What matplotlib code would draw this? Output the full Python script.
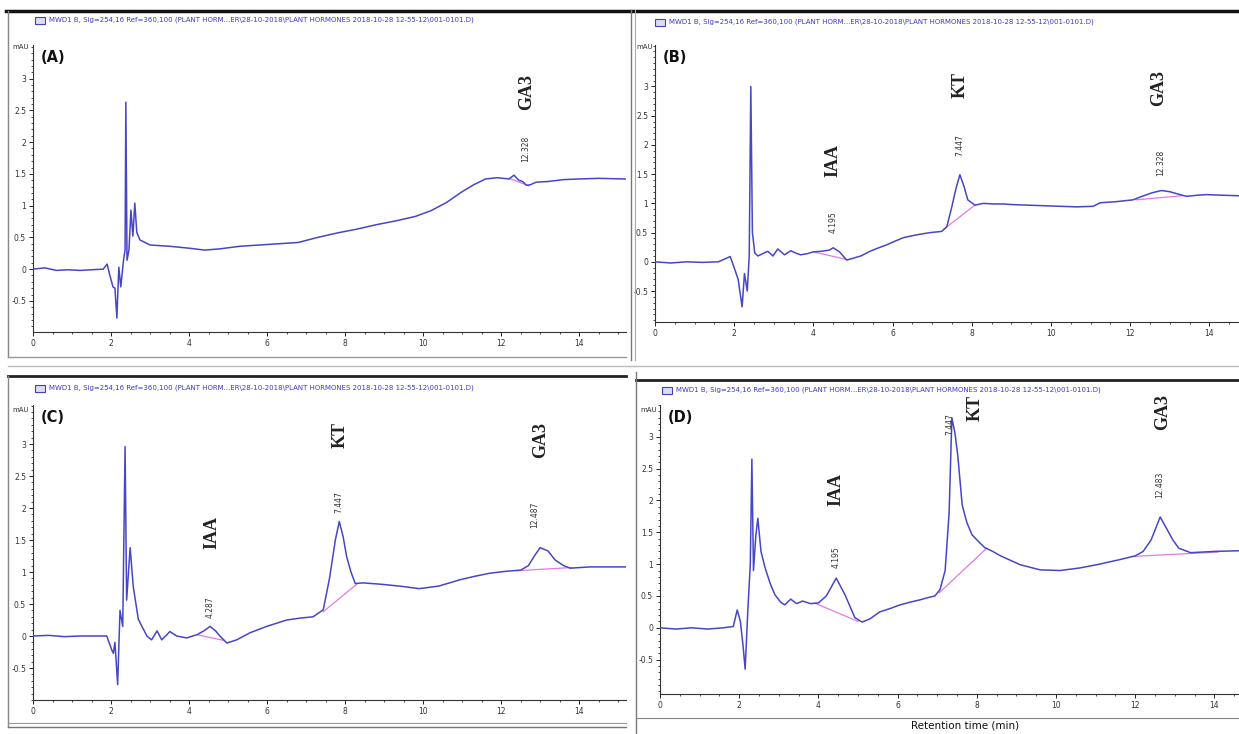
import matplotlib
matplotlib.use("Agg")
import matplotlib.pyplot as plt
from matplotlib.lines import Line2D
from matplotlib.patches import Rectangle
from matplotlib.ticker import MultipleLocator, FixedLocator

# ---- chromatogram traces (time in min, signal in mAU) ----
a_time = [0.0, 0.3, 0.6, 0.9, 1.2, 1.5, 1.8, 1.9, 1.97, 2.05, 2.1, 2.15, 2.2, 2.25, 2.32,
          2.36, 2.38, 2.41, 2.46, 2.51, 2.56, 2.61, 2.66, 2.74, 3.0, 3.5, 4.0, 4.4, 4.8,
          5.3, 5.8, 6.3, 6.8, 7.3, 7.8, 8.3, 8.8, 9.3, 9.8, 10.2, 10.6, 11.0, 11.3, 11.6,
          11.9, 12.2, 12.33, 12.45, 12.55, 12.65, 12.75, 12.9, 13.2, 13.6, 14.0, 14.5, 15.2]
a_mau = [0.0, 0.02, -0.02, -0.01, -0.02, -0.01, 0.0, 0.08, -0.1, -0.28, -0.3, -0.77, 0.03,
         -0.28, 0.14, 0.3, 2.63, 0.14, 0.3, 0.93, 0.52, 1.04, 0.58, 0.46, 0.38, 0.36, 0.33,
         0.3, 0.32, 0.36, 0.38, 0.4, 0.42, 0.5, 0.57, 0.63, 0.7, 0.76, 0.83, 0.92, 1.05,
         1.22, 1.33, 1.42, 1.44, 1.42, 1.48, 1.4, 1.38, 1.32, 1.33, 1.37, 1.38, 1.41, 1.42,
         1.43, 1.42]

b_time = [0.0, 0.4, 0.8, 1.2, 1.6, 1.9, 2.02, 2.1, 2.2, 2.26, 2.33, 2.38, 2.42, 2.46, 2.52,
          2.6, 2.72, 2.85, 2.98, 3.1, 3.27, 3.43, 3.55, 3.68, 3.85, 4.0, 4.2, 4.4, 4.5, 4.66,
          4.84, 5.0, 5.2, 5.43, 5.65, 5.85, 6.05, 6.26, 6.45, 6.68, 6.95, 7.24, 7.37, 7.5,
          7.6, 7.7, 7.8, 7.9, 8.08, 8.29, 8.55, 8.8, 9.0, 9.39, 9.8, 10.23, 10.65, 11.07,
          11.24, 11.66, 12.07, 12.3, 12.55, 12.79, 13.0, 13.26, 13.43, 13.7, 13.93, 14.3, 14.75]
b_mau = [0.0, -0.02, 0.0, -0.01, 0.0, 0.09, -0.14, -0.3, -0.77, -0.2, -0.5, 0.1, 3.0, 0.5,
         0.15, 0.1, 0.14, 0.18, 0.1, 0.22, 0.12, 0.19, 0.15, 0.12, 0.14, 0.17, 0.18, 0.2,
         0.24, 0.17, 0.03, 0.06, 0.1, 0.18, 0.24, 0.29, 0.35, 0.41, 0.44, 0.47, 0.5, 0.52,
         0.6, 0.95, 1.25, 1.49, 1.3, 1.06, 0.97, 1.0, 0.99, 0.99, 0.98, 0.97, 0.96, 0.95,
         0.94, 0.95, 1.01, 1.03, 1.06, 1.12, 1.18, 1.22, 1.2, 1.15, 1.12, 1.14, 1.15, 1.14, 1.13]

c_time = [0.0, 0.4, 0.8, 1.2, 1.6, 1.89, 2.02, 2.06, 2.1, 2.17, 2.23, 2.3, 2.36, 2.4, 2.49,
          2.57, 2.7, 2.92, 3.04, 3.18, 3.3, 3.51, 3.68, 3.94, 4.2, 4.38, 4.54, 4.68, 4.79,
          4.97, 5.22, 5.56, 5.99, 6.5, 6.85, 7.18, 7.44, 7.6, 7.75, 7.85, 7.95, 8.04, 8.15,
          8.26, 8.46, 8.9, 9.4, 9.9, 10.4, 10.95, 11.3, 11.7, 12.1, 12.5, 12.7, 12.85, 13.0,
          13.2, 13.38, 13.6, 13.77, 14.28, 14.8, 15.2]
c_mau = [0.0, 0.01, -0.01, 0.0, 0.0, 0.0, -0.22, -0.27, -0.1, -0.76, 0.4, 0.15, 2.96, 0.56,
         1.38, 0.77, 0.26, 0.0, -0.06, 0.08, -0.06, 0.07, 0.0, -0.03, 0.02, 0.08, 0.15, 0.08,
         0.0, -0.11, -0.06, 0.05, 0.15, 0.25, 0.28, 0.3, 0.41, 0.9, 1.5, 1.79, 1.55, 1.24,
         1.0, 0.82, 0.83, 0.81, 0.78, 0.74, 0.78, 0.88, 0.93, 0.98, 1.01, 1.03, 1.1, 1.25,
         1.38, 1.33, 1.19, 1.1, 1.06, 1.08, 1.08, 1.08]

d_time = [0.0, 0.4, 0.8, 1.2, 1.6, 1.85, 1.95, 2.03, 2.1, 2.15, 2.22, 2.28, 2.32, 2.36, 2.42,
          2.47, 2.55, 2.65, 2.78, 2.9, 3.05, 3.15, 3.3, 3.45, 3.6, 3.8, 4.0, 4.2, 4.45, 4.67,
          4.92, 5.1, 5.3, 5.55, 5.8, 6.06, 6.3, 6.57, 6.8, 6.94, 7.07, 7.2, 7.3, 7.37, 7.45,
          7.52, 7.63, 7.75, 7.88, 8.05, 8.2, 8.4, 8.6, 9.1, 9.6, 10.1, 10.6, 11.1, 11.6,
          12.0, 12.2, 12.4, 12.63, 12.8, 12.95, 13.1, 13.4, 14.0, 14.6]
d_mau = [0.0, -0.02, 0.0, -0.02, 0.0, 0.02, 0.28, 0.1, -0.3, -0.65, 0.3, 1.0, 2.65, 0.9,
         1.45, 1.72, 1.2, 0.95, 0.7, 0.52, 0.4, 0.36, 0.45, 0.38, 0.42, 0.38, 0.39, 0.5,
         0.78, 0.52, 0.16, 0.09, 0.14, 0.25, 0.3, 0.36, 0.4, 0.44, 0.48, 0.5, 0.6, 0.9, 1.8,
         3.3, 3.05, 2.7, 1.93, 1.65, 1.46, 1.35, 1.26, 1.2, 1.13, 0.99, 0.91, 0.9, 0.94, 1.0,
         1.07, 1.13, 1.2, 1.38, 1.74, 1.55, 1.38, 1.25, 1.18, 1.2, 1.21]

# integration baselines (start/end of each peak), [t0, t1], [y0, y1]
a_baselines = [([12.2, 12.72], [1.43, 1.31])]
b_baselines = [([4.0, 4.84], [0.17, 0.04]), ([7.3, 8.08], [0.56, 0.97]),
               ([12.15, 13.3], [1.06, 1.13])]
c_baselines = [([4.2, 4.9], [0.02, -0.07]), ([7.44, 8.3], [0.38, 0.81]),
               ([12.4, 13.8], [1.02, 1.07])]
d_baselines = [([3.9, 5.0], [0.39, 0.1]), ([7.05, 8.25], [0.55, 1.25]),
               ([11.9, 14.1], [1.12, 1.19])]

# peak annotations: (name, x, y) and (retention time, x, y)
a_names = [("GA3", 12.64, 2.79)]
a_rts = [("12.328", 12.64, 1.9)]
b_names = [("IAA", 4.5, 1.74), ("KT", 7.7, 3.03), ("GA3", 12.73, 2.97)]
b_rts = [("4.195", 4.5, 0.68), ("7.447", 7.7, 2.0), ("12.328", 12.78, 1.69)]
c_names = [("IAA", 4.59, 1.61), ("KT", 7.87, 3.14), ("GA3", 13.0, 3.06)]
c_rts = [("4.287", 4.54, 0.45), ("7.447", 7.85, 2.09), ("12.487", 12.87, 1.89)]
d_names = [("IAA", 4.44, 2.17), ("KT", 7.95, 3.45), ("GA3", 12.68, 3.39)]
d_rts = [("4.195", 4.44, 1.11), ("7.447", 7.32, 3.2), ("12.483", 12.63, 2.24)]

y_ticks = [-0.5, 0, 0.5, 1, 1.5, 2, 2.5, 3]
y_ticklabels = ["-0.5", "0", "0.5", "1", "1.5", "2", "2.5", "3"]
x_ticks = [0, 2, 4, 6, 8, 10, 12, 14]

header = ("MWD1 B, Sig=254,16 Ref=360,100 (PLANT HORM...ER\\28-10-2018\\PLANT HORMONES "
          "2018-10-28 12-55-12\\001-0101.D)")

W, H = 1239, 734
TRACE = "#4646c8"
BASE = "#e27ae2"

fig = plt.figure(figsize=(W / 100, H / 100), dpi=100)


def px_box(left, top, right, bottom):
    return [left / W, 1 - bottom / H, (right - left) / W, (bottom - top) / H]


def fig_line(x0, y0, x1, y1, **kw):
    fig.add_artist(Line2D([x0 / W, x1 / W], [1 - y0 / H, 1 - y1 / H],
                          transform=fig.transFigure, **kw))


def fig_text(x, y, s, **kw):
    fig.text(x / W, 1 - y / H, s, **kw)


def chromatogram(box, xlim, ylim, t, y, baselines, names, rts, tag, head_xy, mau_xy):
    ax = fig.add_axes(px_box(*box))
    ax.plot(t, y, color=TRACE, lw=1.1, zorder=3)
    for bt, by in baselines:
        ax.plot(bt, by, color=BASE, lw=0.9, zorder=2)
    for s, x, yy in names:
        ax.text(x, yy, s, rotation=90, ha="center", va="center", fontsize=13,
                family="Liberation Serif", fontweight="bold", color="#222222")
    for s, x, yy in rts:
        ax.text(x, yy, s, rotation=90, ha="center", va="center", fontsize=5.5,
                color="#333333")
    ax.set_xlim(*xlim)
    ax.set_ylim(*ylim)
    for side in ("top", "right"):
        ax.spines[side].set_visible(False)
    for side in ("left", "bottom"):
        ax.spines[side].set_color("#333333")
        ax.spines[side].set_linewidth(0.8)
    ax.xaxis.set_major_locator(FixedLocator(x_ticks))
    ax.xaxis.set_minor_locator(MultipleLocator(0.5))
    ax.yaxis.set_major_locator(FixedLocator(y_ticks))
    ax.set_yticklabels(y_ticklabels)
    ax.yaxis.set_minor_locator(MultipleLocator(0.1))
    ax.tick_params(which="major", direction="out", length=3, width=0.6,
                   labelsize=5.5, labelcolor="#333333", pad=2)
    ax.tick_params(which="minor", direction="out", length=1.5, width=0.5)
    ax.patch.set_alpha(0)
    # window decorations of the instrument software
    hx, hy = head_xy
    fig.add_artist(Rectangle(((hx) / W, 1 - (hy + 4) / H), 10 / W, 7 / H,
                             transform=fig.transFigure, facecolor="#dcdcf2",
                             edgecolor="#4040c0", lw=0.8))
    fig_text(hx + 14, hy, header, fontsize=5, color="#3a3ad0", va="center")
    fig_text(mau_xy[0], mau_xy[1], "mAU", fontsize=5, color="#333333", va="center")
    fig_text(box[0] + 8, box[1] + 12, tag, fontsize=10.5, fontweight="bold", va="center",
             color="#111111")
    return ax


chromatogram((33, 45, 626, 332), (0, 15.2), (-0.99, 3.53), a_time, a_mau, a_baselines,
             a_names, a_rts, "(A)", (35, 20), (12, 47))
chromatogram((655, 45, 1239, 322), (0, 14.75), (-1.03, 3.71), b_time, b_mau, b_baselines,
             b_names, b_rts, "(B)", (655, 22), (636, 47))
chromatogram((33, 405, 626, 700), (0, 15.2), (-1.0, 3.61), c_time, c_mau, c_baselines,
             c_names, c_rts, "(C)", (35, 388), (12, 410))
ax_d = chromatogram((660, 405, 1239, 694), (0, 14.62), (-1.04, 3.5), d_time, d_mau,
                    d_baselines, d_names, d_rts, "(D)", (662, 390), (640, 410))
fig_text(965, 726, "Retention time (min)", fontsize=7.5, ha="center", va="center",
         color="#111111")

# screenshot frames around the four panels
fig_line(6, 11, 1239, 11, color="#111111", lw=2.5)
fig_line(8, 11, 8, 357, color="#888888", lw=1.0)
fig_line(8, 357, 626, 357, color="#999999", lw=1.0)
fig_line(631, 10, 631, 360, color="#777777", lw=1.0)
fig_line(635, 10, 635, 360, color="#aaaaaa", lw=0.8)
fig_line(8, 366, 1239, 366, color="#bbbbbb", lw=1.0)
fig_line(8, 376, 626, 376, color="#222222", lw=2.0)
fig_line(8, 376, 8, 727, color="#888888", lw=1.0)
fig_line(8, 723, 626, 723, color="#999999", lw=0.8)
fig_line(8, 727, 626, 727, color="#777777", lw=1.0)
fig_line(636, 380, 1239, 380, color="#222222", lw=2.0)
fig_line(636, 372, 636, 734, color="#777777", lw=1.0)
fig_line(636, 718, 1239, 718, color="#888888", lw=0.8)

fig.savefig("out.png", dpi=100)
